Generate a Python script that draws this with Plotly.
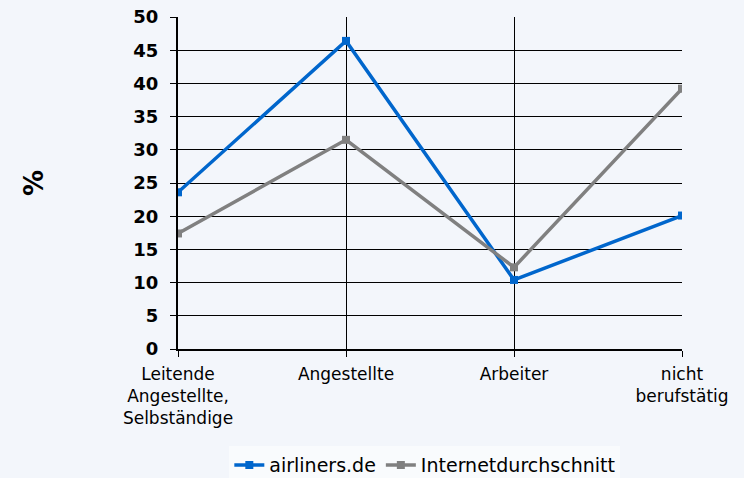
import plotly.graph_objects as go

categories = ["Leitende<br>Angestellte,<br>Selbständige", "Angestellte", "Arbeiter", "nicht<br>berufstätig"]
airliners = [23.6, 46.4, 10.4, 20.1]
internet = [17.4, 31.5, 12.3, 39.2]
y_ticks = [0, 5, 10, 15, 20, 25, 30, 35, 40, 45, 50]

fig = go.Figure()
fig.add_trace(go.Scatter(x=categories, y=airliners, name="airliners.de", mode="lines+markers",
                         line=dict(color="#0066cc", width=3.5),
                         marker=dict(symbol="square", size=8, color="#0066cc")))
fig.add_trace(go.Scatter(x=categories, y=internet, name="Internetdurchschnitt", mode="lines+markers",
                         line=dict(color="#808080", width=3.5),
                         marker=dict(symbol="square", size=8, color="#808080")))

fig.update_layout(
    width=744, height=478,
    margin=dict(l=178, r=62, t=17, b=129, autoexpand=False),
    paper_bgcolor="#f3f6fb", plot_bgcolor="#f3f6fb",
    font=dict(family="DejaVu Sans", color="#000000"),
    showlegend=True,
    legend=dict(orientation="h", xref="container", x=0.571, xanchor="center",
                yref="container", y=0.027, yanchor="middle",
                font=dict(size=19, family="DejaVu Sans"), bgcolor="rgba(255,255,255,0.5)",
                tracegroupgap=0, itemwidth=30),
    xaxis=dict(type="category", range=[0, 3], showgrid=True, gridcolor="#000000", gridwidth=1,
               showline=True, linecolor="#000000", linewidth=1.5, ticks="outside", ticklen=6,
               tickcolor="#000000", tickfont=dict(size=17, family="DejaVu Sans"), zeroline=False,
               ticklabelstandoff=3),
    yaxis=dict(range=[0, 50], tickvals=y_ticks, showgrid=True, gridcolor="#000000", gridwidth=1,
               showline=True, linecolor="#000000", linewidth=2, ticks="outside", ticklen=6,
               tickcolor="#000000", tickfont=dict(size=18, family="DejaVu Sans", weight="bold"),
               zeroline=False, ticklabelstandoff=8,
               title=dict(text="%", font=dict(size=26, family="DejaVu Sans", weight="bold"), standoff=82)),
)

fig.write_html("out.html", config={"displayModeBar": False},
               post_script="document.body.style.margin='0';document.body.style.background='#f3f6fb';")
